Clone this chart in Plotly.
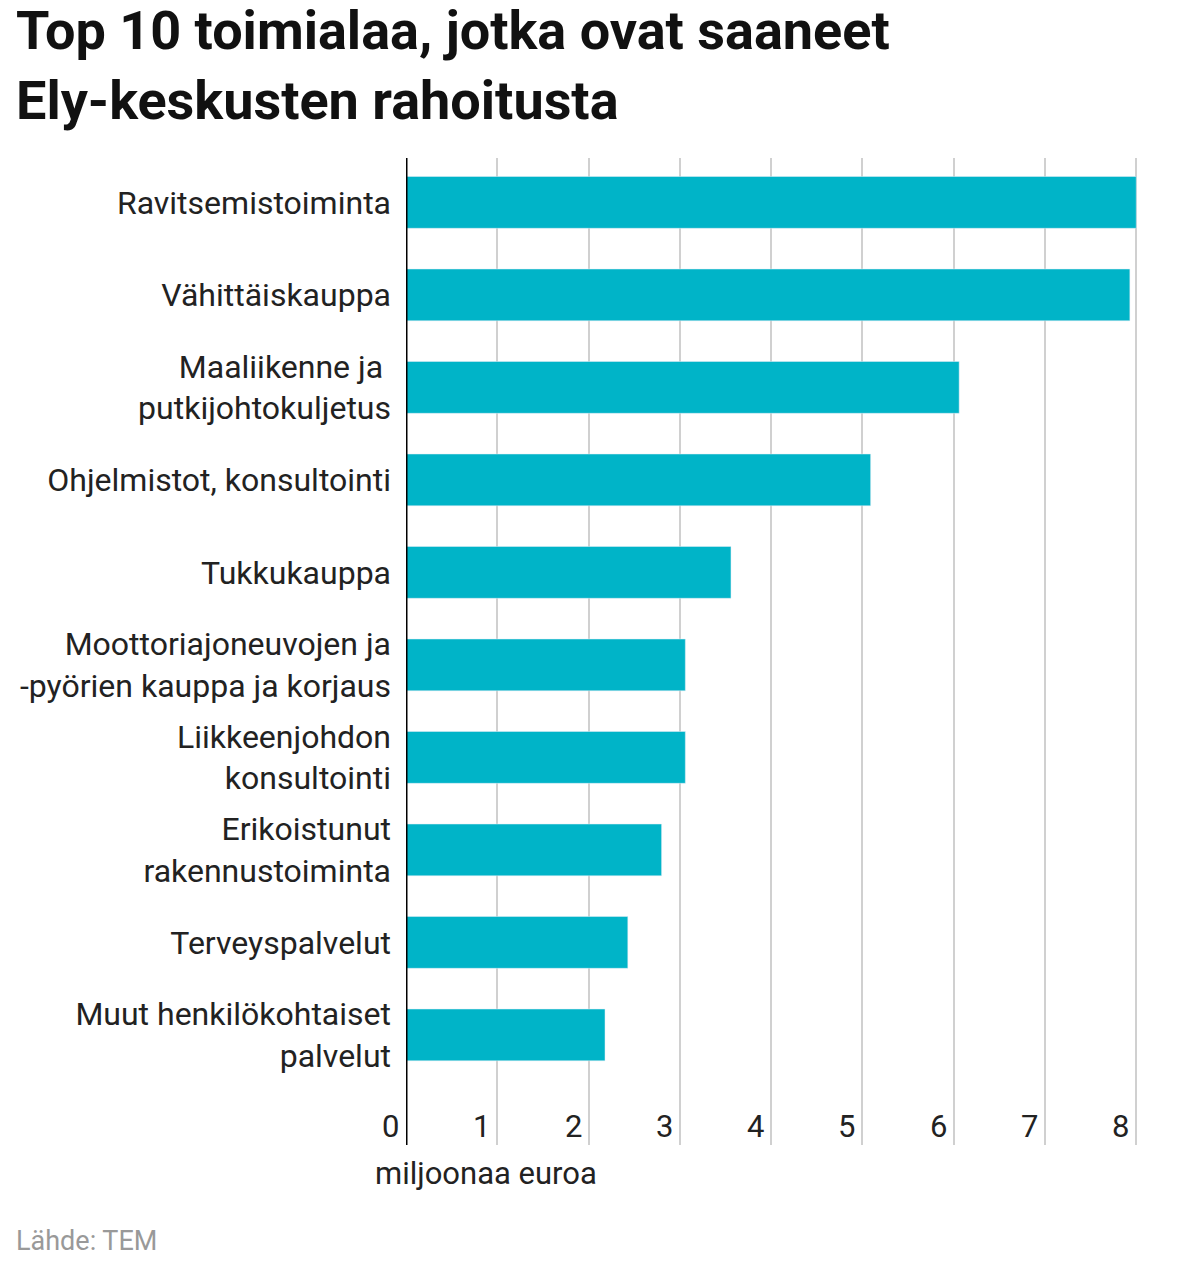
import plotly.graph_objects as go

categories = ["Ravitsemistoiminta", "Vähittäiskauppa", "Maaliikenne ja <br>putkijohtokuljetus",
              "Ohjelmistot, konsultointi", "Tukkukauppa", "Moottoriajoneuvojen ja<br>-pyörien kauppa ja korjaus",
              "Liikkeenjohdon<br>konsultointi", "Erikoistunut<br>rakennustoiminta", "Terveyspalvelut",
              "Muut henkilökohtaiset<br>palvelut"]
values = [8.0, 7.93, 6.06, 5.09, 3.56, 3.06, 3.06, 2.80, 2.43, 2.18]
xticks = [0, 1, 2, 3, 4, 5, 6, 7, 8]

L, R, T, B = 392, 68, 150, 128
W, H = 1199 - L - R, 1265 - T - B
def px(x): return (x - 8 - L) / W
def py(y): return (1265 - B - (y - 8)) / H

pos = list(range(len(categories)))
fig = go.Figure(go.Bar(x=values, y=pos, orientation="h", marker_color="#00b4c8",
                       width=0.56, hoverinfo="skip"))
F = "Roboto"
fig.update_layout(
    width=1199, height=1265, paper_bgcolor="white", plot_bgcolor="white",
    margin=dict(l=L, r=R, t=T, b=B), showlegend=False,
    font=dict(family=F, size=32, color="#222"),
    xaxis=dict(range=[0, 8.03], tickvals=xticks, showticklabels=False,
               showgrid=True, gridcolor="#d0d0d0", gridwidth=2, zeroline=False),
    yaxis=dict(range=[10.19, -0.48], tickvals=pos, ticktext=categories, ticks="",
               ticklabelstandoff=14, showgrid=False, zeroline=False,
               tickfont=dict(size=32, color="#222")),
)
fig.add_shape(type="line", x0=0, x1=0, y0=0, y1=1, xref="x", yref="paper",
              line=dict(color="black", width=3))
for t in xticks:
    fig.add_annotation(x=t, y=10.19, xref="x", yref="y", text=str(t), showarrow=False,
                       xanchor="right", yanchor="bottom", xshift=-5, yshift=-2,
                       font=dict(size=31, color="#222"))
fig.add_annotation(x=px(5), y=py(65), xref="paper", yref="paper", xanchor="left", yanchor="middle",
                   align="left", showarrow=False,
                   text="<b>Top 10 toimialaa, jotka ovat saaneet<br>Ely-keskusten rahoitusta</b>",
                   font=dict(size=54, color="#111", family=F))
fig.add_annotation(x=px(481), y=py(1173), xref="paper", yref="paper", text="miljoonaa euroa",
                   xanchor="center", yanchor="middle", showarrow=False,
                   font=dict(size=31, color="#222"))
fig.add_annotation(x=px(5), y=py(1241), xref="paper", yref="paper", xanchor="left", yanchor="middle",
                   text="Lähde: TEM", showarrow=False, font=dict(size=27, color="#999"))
fig.write_html("out.html")
